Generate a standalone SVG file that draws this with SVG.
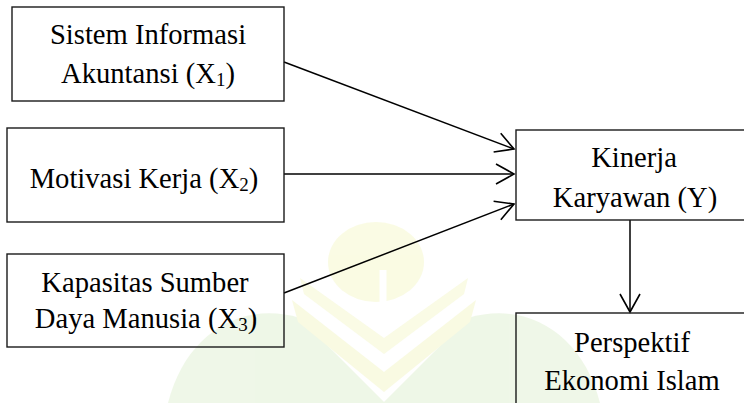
<svg xmlns="http://www.w3.org/2000/svg" width="744" height="403" viewBox="0 0 744 403">
  <style>
    .box { fill: none; stroke: #1a1a1a; stroke-width: 1.4; }
    .lbl { font-family: "Liberation Serif", "Times New Roman", serif; font-size: 28.6px; fill: #000; text-anchor: middle; }
    .sub { font-size: 19px; }
    .conn { stroke: #000; stroke-width: 1.5; fill: none; marker-end: url(#arrow); }
  </style>
  <defs>
    <marker id="arrow" markerUnits="userSpaceOnUse" markerWidth="24" markerHeight="24" viewBox="-21 -12 24 24" refX="0" refY="0" orient="auto" overflow="visible">
      <path d="M -18 -10 L 0 0 L -18 10" fill="none" stroke="#000" stroke-width="1.6"/>
    </marker>
  </defs>
  <rect width="744" height="403" fill="#ffffff"/>

  <g id="watermark" opacity="0.6">
    <path d="M168,403 C 185,335 240,300 300,318 L 385,403 Z" fill="#e4f2d8"/>
    <path d="M600,403 C 583,335 528,300 468,318 L 383,403 Z" fill="#e4f2d8"/>
    <path d="M292,300 L 384,372 L 476,300 L 470,322 L 384,392 L 298,322 Z" fill="#f6f8cf"/>
    <path d="M300,278 L 384,338 L 468,278 L 464,294 L 384,354 L 304,294 Z" fill="#f7f9d4"/>
    <ellipse cx="376" cy="262" rx="48" ry="40" fill="#f7f9d2"/>
    <path d="M383,270 L 383,312" stroke="#ffffff" stroke-width="7" fill="none"/>
  </g>

  <g id="connectors">
    <line class="conn" x1="284" y1="62" x2="514" y2="149"/>
    <line class="conn" x1="284" y1="174" x2="514" y2="174"/>
    <line class="conn" x1="284" y1="293" x2="514" y2="204"/>
    <line class="conn" x1="630" y1="220" x2="630" y2="312"/>
  </g>

  <g id="x1">
    <rect class="box" x="12" y="7" width="272" height="94"/>
    <text class="lbl" x="148" y="44">Sistem Informasi</text>
    <text class="lbl" x="148" y="83">Akuntansi (X<tspan class="sub" dy="3">1</tspan><tspan dy="-3">)</tspan></text>
  </g>

  <g id="x2">
    <rect class="box" x="7" y="128" width="277" height="94"/>
    <text class="lbl" x="144" y="188">Motivasi Kerja (X<tspan class="sub" dy="3">2</tspan><tspan dy="-3">)</tspan></text>
  </g>

  <g id="x3">
    <rect class="box" x="7" y="254" width="277" height="93"/>
    <text class="lbl" x="145" y="292">Kapasitas Sumber</text>
    <text class="lbl" x="146" y="328">Daya Manusia (X<tspan class="sub" dy="3">3</tspan><tspan dy="-3">)</tspan></text>
  </g>

  <g id="y">
    <rect class="box" x="516" y="130" width="240" height="90"/>
    <text class="lbl" x="634" y="167">Kinerja</text>
    <text class="lbl" x="635" y="207">Karyawan (Y)</text>
  </g>

  <g id="perspektif">
    <rect class="box" x="516" y="313" width="240" height="120"/>
    <text class="lbl" x="632" y="352">Perspektif</text>
    <text class="lbl" x="632" y="390">Ekonomi Islam</text>
  </g>
</svg>
